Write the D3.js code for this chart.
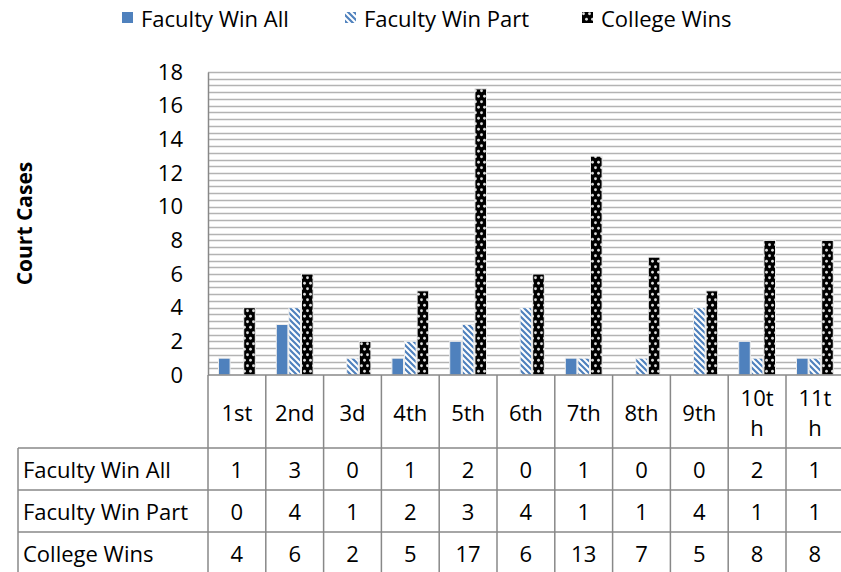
<!DOCTYPE html>
<html>
<head>
<meta charset="utf-8">
<script src="https://cdn.jsdelivr.net/npm/d3@7"></script>
<style>
  body { margin: 0; background: #fff; }
  text { font-family: "Open Sans", Calibri, sans-serif; fill: #000; }
</style>
</head>
<body>
<div id="chart"></div>
<script>
var width = 841, height = 572;
// plot area
var margin = {top: 72, left: 208, bottom: 375};
var colW = 57.8;
var fs = "22px";

// data
var circuits = ["1st", "2nd", "3d", "4th", "5th", "6th", "7th", "8th", "9th", "10th", "11th"];
var circuitLines = [["1st"], ["2nd"], ["3d"], ["4th"], ["5th"], ["6th"], ["7th"], ["8th"], ["9th"], ["10t", "h"], ["11t", "h"]];
var facultyWinAll = [1, 3, 0, 1, 2, 0, 1, 0, 0, 2, 1];
var facultyWinPart = [0, 4, 1, 2, 3, 4, 1, 1, 4, 1, 1];
var collegeWins = [4, 6, 2, 5, 17, 6, 13, 7, 5, 8, 8];
var seriesNames = ["Faculty Win All", "Faculty Win Part", "College Wins"];
var yTicks = [0, 2, 4, 6, 8, 10, 12, 14, 16, 18];

var series = [facultyWinAll, facultyWinPart, collegeWins];
var fills = ["#4f81bd", "url(#hatch)", "url(#dots)"];

var svg = d3.select("#chart")
    .append("svg")
        .attr("width", width)
        .attr("height", height);

var defs = svg.append("defs");
var hatch = defs.append("pattern")
    .attr("id", "hatch")
    .attr("patternUnits", "userSpaceOnUse")
    .attr("width", 6).attr("height", 6);
hatch.append("rect").attr("width", 6).attr("height", 6).attr("fill", "#fff");
hatch.append("path")
    .attr("d", "M-1,-1 L7,7 M-1,5 L1,7 M5,-1 L7,1")
    .attr("stroke", "#4f81bd").attr("stroke-width", 2.2);

var dots = defs.append("pattern")
    .attr("id", "dots")
    .attr("patternUnits", "userSpaceOnUse")
    .attr("width", 6).attr("height", 11);
dots.append("rect").attr("width", 6).attr("height", 11).attr("fill", "#000");
dots.append("circle").attr("cx", 1.5).attr("cy", 2.75).attr("r", 1.4).attr("fill", "#ddd");
dots.append("circle").attr("cx", 4.5).attr("cy", 8.25).attr("r", 1.4).attr("fill", "#ddd");

var x = d3.scaleBand()
    .domain(circuits)
    .range([margin.left, margin.left + colW * circuits.length]);

var xs = d3.scaleBand()
    .domain(d3.range(3))
    .range([10, colW - 10]);

var y = d3.scaleLinear()
    .domain([0, 18])
    .range([margin.bottom, margin.top]);

// gridlines (major 2, minor 0.4)
svg.append("g")
    .selectAll("line")
    .data(d3.range(0, 45).map(function(i){ return (i + 1) * 0.4; }))
    .join("line")
    .attr("x1", margin.left).attr("x2", width)
    .attr("y1", function(d){ return Math.round(y(d)) + 0.5; })
    .attr("y2", function(d){ return Math.round(y(d)) + 0.5; })
    .attr("stroke", "#b3b3b3")
    .attr("stroke-width", 1.6);

// y axis
var yAxis = svg.append("g")
    .attr("transform", "translate(" + margin.left + ",0)")
    .call(d3.axisLeft(y).tickValues(yTicks).tickSize(0).tickPadding(12));
yAxis.select(".domain").attr("stroke", "#888").attr("stroke-width", 1.5);
yAxis.selectAll("text")
    .style("font-size", fs)
    .style("font-family", "'Open Sans', sans-serif")
    .attr("x", -25);

// bars
series.forEach(function(vals, si){
    svg.append("g")
        .selectAll("rect")
        .data(vals)
        .join("rect")
        .attr("x", function(d, i){ return x(circuits[i]) + xs(si) + 0.5; })
        .attr("width", xs.bandwidth() - 1)
        .attr("y", function(d){ return y(d); })
        .attr("height", function(d){ return y(0) - y(d); })
        .attr("fill", fills[si])
        .attr("stroke", "#eee")
        .attr("stroke-width", d => d > 0 ? 1 : 0);
});

// data table
var tableTop = margin.bottom, headH = 73, rowH = 42, labelLeft = 18;
var lineCol = "#888";
var tg = svg.append("g");

// horizontal lines
tg.append("line")
    .attr("x1", margin.left).attr("x2", width)
    .attr("y1", tableTop).attr("y2", tableTop)
    .attr("stroke", lineCol).attr("stroke-width", 1.5);
d3.range(3).forEach(function(r){
    var yy = tableTop + headH + r * rowH;
    tg.append("line")
        .attr("x1", labelLeft).attr("x2", width)
        .attr("y1", yy).attr("y2", yy)
        .attr("stroke", lineCol).attr("stroke-width", 1.5);
});
// vertical lines
tg.append("line")
    .attr("x1", labelLeft).attr("x2", labelLeft)
    .attr("y1", tableTop + headH).attr("y2", height)
    .attr("stroke", lineCol).attr("stroke-width", 1.5);
tg.selectAll(".vline")
    .data(circuits)
    .join("line")
    .attr("class", "vline")
    .attr("x1", function(d){ return x(d); })
    .attr("x2", function(d){ return x(d); })
    .attr("y1", tableTop).attr("y2", height)
    .attr("stroke", lineCol).attr("stroke-width", 1.5);

// header labels
circuits.forEach(function(c, i){
    var lines = circuitLines[i];
    var cy = tableTop + headH / 2;
    lines.forEach(function(t, li){
        tg.append("text")
            .attr("x", x(c) + colW / 2)
            .attr("y", cy + (li - (lines.length - 1) / 2) * 30)
            .attr("text-anchor", "middle")
            .attr("dominant-baseline", "central")
            .style("font-size", fs)
            .text(t);
    });
});

// rows
series.forEach(function(vals, si){
    var cy = tableTop + headH + si * rowH + rowH / 2;
    tg.append("text")
        .attr("x", labelLeft + 5)
        .attr("y", cy)
        .attr("dominant-baseline", "central")
        .style("font-size", fs)
        .text(seriesNames[si]);
    vals.forEach(function(v, i){
        tg.append("text")
            .attr("x", x(circuits[i]) + colW / 2)
            .attr("y", cy)
            .attr("text-anchor", "middle")
            .attr("dominant-baseline", "central")
            .style("font-size", fs)
            .text(v);
    });
});

// axis title
svg.append("text")
    .attr("transform", "translate(32," + ((margin.top + margin.bottom) / 2) + ") rotate(-90)")
    .attr("text-anchor", "middle")
    .style("font-size", "21px")
    .style("font-weight", "bold")
    .text("Court Cases");

// legend
var legendX = [122, 345, 582];
var lg = svg.append("g");
seriesNames.forEach(function(n, i){
    lg.append("rect")
        .attr("x", legendX[i]).attr("y", 12)
        .attr("width", 11).attr("height", 11)
        .attr("fill", fills[i]);
    lg.append("text")
        .attr("x", legendX[i] + 19)
        .attr("y", 18)
        .attr("dominant-baseline", "central")
        .style("font-size", fs)
        .text(n);
});
</script>
</body>
</html>
